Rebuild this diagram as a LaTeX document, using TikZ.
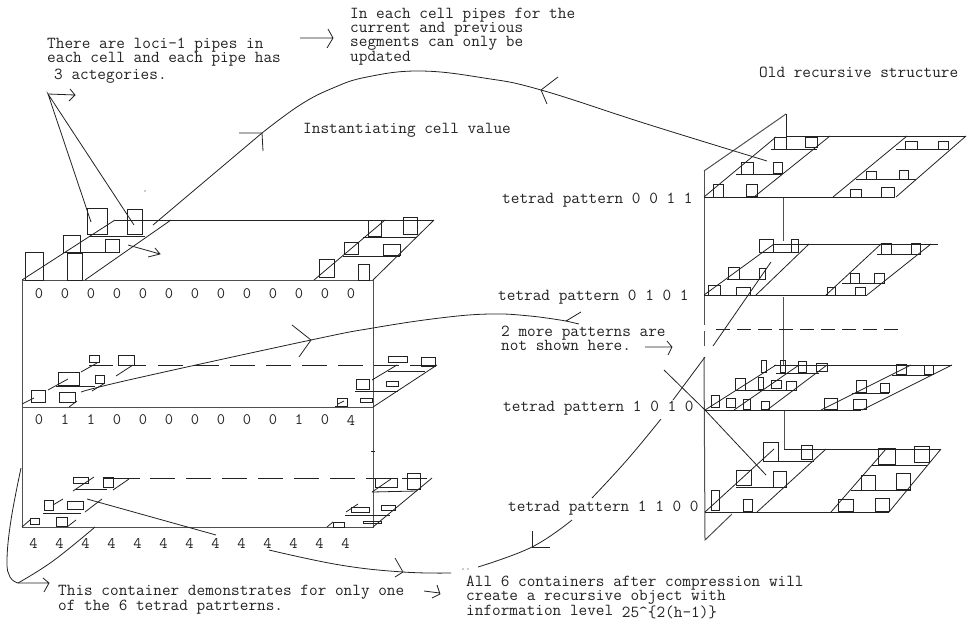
\documentclass[tikz,border=0pt]{standalone}
\usepackage{fontspec}
\usepackage{xcolor}
\usetikzlibrary{calc}
\definecolor{ink}{HTML}{222222}
\definecolor{frame}{HTML}{505050}
\newcommand{\pipes}[1]{\foreach \xa/\ya/\xb/\yb in {#1} {\draw[pipe] (\xa,\ya) rectangle (\xb,\yb);}}
\newcommand{\strokes}[1]{\foreach \xa/\ya/\xb/\yb in {#1} {\draw[cell] (\xa,\ya) -- (\xb,\yb);}}

\begin{document}
\begin{tikzpicture}[
  x=1pt, y=-1pt,
  note/.style={font=\ttfamily\fontsize{16.8}{14}\selectfont, anchor=north west, inner sep=0pt,
               align=left, text=ink},
  digit/.style={font=\ttfamily\fontsize{16}{16}\selectfont, inner sep=0pt, text=ink},
  pipe/.style={draw=ink, line width=0.9pt},
  cell/.style={draw=ink, line width=0.8pt},
  wall/.style={draw=frame, line width=1pt},
  pen/.style={draw=ink, line width=0.8pt},
  gap/.style={draw=ink, line width=0.9pt, dash pattern=on 25pt off 11pt},
  speck/.style={fill=ink, radius=0.7pt}
]
\useasboundingbox (0,0) rectangle (968,626);

% --- Notes ---
\node[note] (nloci) at (47,38) {There are loci-1 pipes in\\each cell and each pipe has};
\node[note] (nactg) at (54,68.5) { 3 actegories.};
\node[note] (nupd) at (350,7.5) {In each cell pipes for the\\current and previous\\segments can only be\\updated};
\node[note] (ninst) at (303,123.5) {Instantiating cell value};
\node[note] (nold) at (759,66.5) {Old recursive structure};
\node[note] (tpa) at (502,192.5) {tetrad pattern 0 0 1 1};
\node[note] (tpb) at (498,289.5) {tetrad pattern 0 1 0 1};
\node[note] (nmore) at (501,325.5) {2 more patterns are\\not shown here.};
\node[note] (tpc) at (503,400.5) {tetrad pattern 1 0 1 0};
\node[note] (tpd) at (508,500.5) {tetrad pattern 1 1 0 0};
\node[note] (ncont) at (58,584.5) {This container demonstrates for only one\\of the 6 tetrad patrterns.};
\node[note] (nall) at (466,575.5) {All 6 containers after compression will\\create a recursive object with\\information level \raisebox{-2pt}{25\textasciicircum\{2(h-1)\}}};

% --- Container ---
\draw[wall] (22,280) rectangle (373,527);
\draw[wall] (22,407) -- (373,407);
\draw[cell] (371,451) -- (375,451);

% --- Digit rows ---
\foreach \val [count=\i] in {0,0,0,0,0,0,0,0,0,0,0,0,0}
  \node[digit] (ra\i) at ({39+26*(\i-1)},294) {\val};
\foreach \val [count=\i] in {0,1,1,0,0,0,0,0,0,0,1,0,4}
  \node[digit] (rb\i) at ({39+26*(\i-1)},420) {\val};
\foreach \val [count=\i] in {4,4,4,4,4,4,4,4,4,4,4,4,4}
  \node[digit] (rc\i) at ({33.5+26*(\i-1)},543) {\val};

% --- Container: top cell ---
\strokes{22/280/115/220, 85/280/171/220, 115/220/434/220, 90/236/145/236, 65/252/120/252,
  314/280/385/220, 373/280/434/220, 363/237/417/237, 343/256/400/256}
\pipes{87/208/107/234, 127/209/142/234, 63/235/80/252, 105/239/119/252, 25/252/43/280, 67/253/82/280,
  368/220/381/236, 403/217/417/234, 344/242/358/254, 383/244/400/255, 319/259/334/277, 358/264/369/280}

% --- Container: middle cell ---
\strokes{89/365/113/365, 118/365/146/365, 81/372/97/363, 116/376/133/365, 48/390/68/379, 56/386/95/386,
  92/391/105/383, 22/404/34/398, 69/407/77/401, 372/380/397/365, 388/371/425/371, 355/391/398/391,
  373/407/437/365, 335/406/347/406, 338/404/344/401}
\draw[gap] (158,365) -- (441,365);
\pipes{89/355/99/362, 118/355/134/365, 58/372/79/385, 95/375/104/383, 31/390/45/402, 59/392/75/402,
  388/356/407/362, 421/357/435/366, 356/379/369/389, 386/381/398/386, 337/398/347/406, 360/398/372/402}

% --- Container: bottom cell ---
\strokes{73/491/94/477, 113/490/129/479, 75/489/107/489, 53/505/63/499, 85/512/102/499, 43/513/81/513,
  22/527/30/520, 67/527/76/520, 372/492/391/479, 372/492/417/491, 373/527/432/478, 345/515/390/515,
  346/512/358/504, 327/527/333/522, 103/478/140/478}
\draw[gap] (150,478) -- (432,478);
\pipes{73/477/88/483, 103/477/113/487, 44/500/53/510, 67/501/83/509, 30/518/39/524, 56/517/67/526,
  375/478/397/487, 407/473/420/489, 351/507/369/512, 381/505/395/510, 333/522/344/527, 363/521/381/523}

% --- Old structure: walls ---
\draw[wall] (704,171) -- (786,114);
\draw[cell] (786,114) -- (786,136);
\draw[wall] (704,171) -- (704,325);
\draw[wall] (704,331) -- (704,346);
\draw[wall] (704,357) -- (705,540) -- (732,514);
\draw[wall] (783,198) -- (783,241);
\draw[wall] (783,297) -- (783,365);
\draw[wall] (784,410) -- (784,449);
\draw[cell, dash pattern=on 14pt off 7pt] (716,329) -- (901,329);

% --- Old structure: pattern 0 0 1 1 ---
\strokes{704/197/895/197, 786/136/966/136, 704/197/776/137, 754/197/830/136, 833/197/907/136, 896/197/966/136,
  771/149/817/149, 736/174/782/174, 896/149/949/149, 856/179/916/179}
\pipes{774/137/786/149, 805/137/817/147, 741/162/753/174, 773/162/782/173, 713/184/723/197, 746/184/757/196,
  905/141/917/149, 938/141/948/149, 866/171/876/179, 899/170/908/179, 850/189/861/197, 881/187/894/197}

% --- Old structure: pattern 0 1 0 1 ---
\strokes{704/295/867/295, 774/244/938/244, 704/295/774/244, 756/295/809/244, 826/295/881/244, 867/295/931/244,
  766/252/796/252, 727/279/764/279, 877/254/919/254, 842/283/884/283}
\pipes{759/239/773/252, 791/239/798/252, 728/267/739/279, 759/268/765/279, 708/285/720/295, 736/287/750/295,
  881/243/891/254, 911/243/920/254, 850/273/859/283, 874/273/884/283, 827/287/835/295, 855/287/865/295}

% --- Old structure: pattern 1 0 1 0 ---
\strokes{705/410/861/410, 774/365/952/365, 705/410/776/365, 734/410/799/365, 767/410/827/365, 821/410/911/365,
  862/410/952/365, 776/373/819/373, 736/390/796/390, 892/375/931/375, 852/393/889/393}
\pipes{761/360/766/372, 780/360/785/372, 798/361/806/372, 816/363/827/371, 735/378/745/390, 758/377/763/389,
  771/380/781/388, 786/381/796/390, 711/395/719/407, 726/398/735/407, 743/399/750/409, 761/401/769/409,
  896/364/906/374, 924/365/933/374, 856/380/866/392, 880/383/889/392, 824/398/837/409, 853/399/866/409}
\fill[speck] (705,410) circle[];

% --- Old structure: pattern 1 1 0 0 ---
\strokes{705/512/889/512, 784/449/941/449, 705/512/774/449, 757/512/826/449, 831/512/886/449, 889/512/941/449,
  763/461/814/461, 736/487/786/487, 872/465/927/465, 851/490/911/490}
\pipes{763/442/778/461, 801/445/812/459, 736/470/751/485, 773/471/786/487, 711/490/719/510, 743/499/752/511,
  878/448/895/464, 914/446/929/462, 861/475/875/490, 896/473/910/489, 838/499/853/511, 875/498/889/511}

% --- Leaders from the notes ---
\draw[pen] (91,222) -- (48,94) -- (134,225);
\draw[pen] (48,94) -- (75,95) (70,89) -- (75,95) -- (69,101);
\draw[pen] (300,38) -- (333,38) (328,29) -- (333,38) -- (327,48);
\draw[pen] (128,245) -- (160,254) (155,248) -- (160,254) -- (148,257);
\draw[pen] (645,347) -- (672,347) (667,341) -- (672,347) -- (668,355);
\draw[pen] (424,591) -- (440,593) (437,585) -- (440,594) -- (432,598);
\draw[pen] (664,370) -- (705,410) -- (766,475);
\draw[pen] (87,499) -- (216,535);

% --- Instantiating curve ---
\draw[pen] (153,225) -- (262,133);
\draw[pen] plot[smooth, tension=0.7] coordinates {(262,133) (300,105) (333,88) (367,77) (420,71) (484,78) (541,90) (650,125) (767,161)};
\draw[pen] (239,133) -- (262,133) -- (263,151);
\draw[pen] (558,77) -- (541,90) -- (547,104);

% --- Pattern curve ---
\draw[pen] plot[smooth, tension=0.7] coordinates {(81,392) (133,379) (311,340) (373,328) (440,318) (490,314) (530,316) (566,321)};
\draw[pen] (292,325) -- (311,340) -- (299,357);
\draw[pen] (581,312) -- (566,321) -- (579,324);

% --- Compression curve, cut by the labels ---
\fill[speck] (463,569) circle[];
\fill[speck] (468,569) circle[];
\draw[pen] plot[smooth, tension=0.7] coordinates {(478,567) (532,547) (572,520)};
\draw[pen] plot[smooth, tension=0.7] coordinates {(592,498) (627,460) (661,419)};
\draw[pen] (673,400) -- (705,357);
\draw[pen] (713,346) -- (771,262);
\draw[pen] (532,531) -- (532,547) -- (550,547);

% --- Bracket and lower curve ---
\draw[pen] plot[smooth, tension=0.7] coordinates {(21,468) (11,520) (7,560) (10,577) (18,583)};
\draw[pen] plot[smooth, tension=0.7] coordinates {(18,583) (53,561) (95,527)};
\draw[pen] (18,583) -- (49,583) (43,578) -- (49,583) -- (44,592);
\draw[pen] plot[smooth, tension=0.7] coordinates {(269,550) (340,565) (403,572) (451,573)};
\draw[pen] (395,558) -- (403,572) -- (395,577);
\fill[speck] (145,191) circle[];
\end{tikzpicture}
\end{document}
